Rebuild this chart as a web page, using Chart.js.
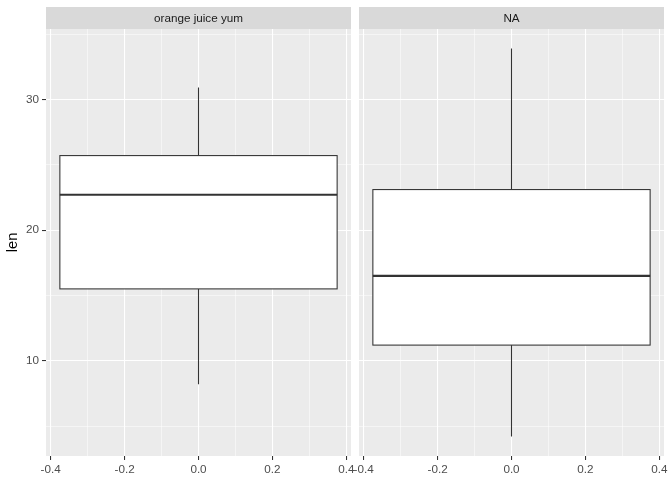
<!DOCTYPE html>
<html><head><meta charset="utf-8">
<script src="https://cdn.jsdelivr.net/npm/chart.js@4"></script>
<style>
html,body{margin:0;padding:0;background:#fff;}
#wrap{position:relative;width:672px;height:480px;overflow:hidden;background:#fff;}
canvas{position:absolute;top:0;}
</style></head><body>
<div id="wrap">
<canvas id="c1" width="362" height="480" style="left:0px;width:362px;height:480px"></canvas>
<canvas id="c2" width="322" height="480" style="left:350px;width:322px;height:480px"></canvas>
</div>
<script>
// ---- data ----
const panels = ['orange juice yum', 'NA'];
const whiskerLow = [8.2, 4.2];
const q1 = [15.5, 11.2];
const medians = [22.7, 16.5];
const q3 = [25.7, 23.1];
const whiskerHigh = [30.9, 33.9];
const boxCenter = 0;
const boxHalfWidth = 0.375;
const xMajor = [-0.4, -0.2, 0, 0.2, 0.4];
const xMinor = [-0.3, -0.1, 0.1, 0.3];
const yMajor = [10, 20, 30];
const yMinor = [5, 15, 25, 35];
const yTitle = 'len';

// ---- derived ranges (ggplot-style 5% expansion) ----
const xLo = boxCenter - boxHalfWidth, xHi = boxCenter + boxHalfWidth;
const xPad = (xHi - xLo) * 0.05;
const yLoData = Math.min(...whiskerLow), yHiData = Math.max(...whiskerHigh);
const yPad = (yHiData - yLoData) * 0.05;

const FONT = '"Liberation Sans", Arial, Helvetica, sans-serif';
const GRID_MAJOR = 1.07, GRID_MINOR = 0.53;

function tickSetter(major, minor) {
  return function (scale) {
    scale.ticks = [...major, ...minor].sort((a, b) => a - b).map(v => ({ value: v }));
  };
}

const panelPlugin = {
  id: 'panelPlugin',
  beforeDraw(chart) {
    const { ctx, chartArea: a } = chart;
    ctx.save();
    ctx.fillStyle = '#EBEBEB';
    ctx.fillRect(a.left, a.top, a.right - a.left, a.bottom - a.top);
    ctx.restore();
  },
  afterDatasetsDraw(chart) {
    const o = chart.options.plugins.panelPlugin;
    const i = o.index;
    const xs = chart.scales.x, ys = chart.scales.y;
    const ctx = chart.ctx;
    const xl = xs.getPixelForValue(boxCenter - boxHalfWidth);
    const xr = xs.getPixelForValue(boxCenter + boxHalfWidth);
    const xc = xs.getPixelForValue(boxCenter);
    const yq1 = ys.getPixelForValue(q1[i]);
    const yq3 = ys.getPixelForValue(q3[i]);
    const ymed = ys.getPixelForValue(medians[i]);
    const ylo = ys.getPixelForValue(whiskerLow[i]);
    const yhi = ys.getPixelForValue(whiskerHigh[i]);
    ctx.save();
    ctx.strokeStyle = '#333333';
    ctx.lineWidth = 1.07;
    // whiskers
    ctx.beginPath();
    ctx.moveTo(xc, yq3); ctx.lineTo(xc, yhi);
    ctx.moveTo(xc, yq1); ctx.lineTo(xc, ylo);
    ctx.stroke();
    // box
    ctx.fillStyle = '#FFFFFF';
    ctx.fillRect(xl, yq3, xr - xl, yq1 - yq3);
    ctx.strokeRect(xl, yq3, xr - xl, yq1 - yq3);
    // median
    ctx.lineWidth = 2.13;
    ctx.beginPath();
    ctx.moveTo(xl, ymed); ctx.lineTo(xr, ymed);
    ctx.stroke();
    ctx.restore();
  },
  afterDraw(chart) {
    const o = chart.options.plugins.panelPlugin;
    const { ctx, chartArea: a } = chart;
    ctx.save();
    ctx.fillStyle = '#D9D9D9';
    ctx.fillRect(a.left, 7, a.right - a.left, a.top - 7);
    ctx.fillStyle = '#1A1A1A';
    ctx.font = '11.7px ' + FONT;
    ctx.textAlign = 'center';
    ctx.textBaseline = 'middle';
    ctx.fillText(panels[o.index], (a.left + a.right) / 2, (7 + a.top) / 2 + 0.5);
    ctx.restore();
  }
};

function makeChart(canvasId, i, isLeft) {
  const isMajX = v => xMajor.includes(v);
  const isMajY = v => yMajor.includes(v);
  return new Chart(document.getElementById(canvasId), {
    type: 'scatter',
    data: {
      datasets: [{
        data: [whiskerLow[i], q1[i], medians[i], q3[i], whiskerHigh[i]].map(v => ({ x: boxCenter, y: v })),
        pointRadius: 0, showLine: false
      }]
    },
    plugins: [panelPlugin],
    options: {
      responsive: false,
      devicePixelRatio: 1,
      animation: false,
      events: [],
      layout: { padding: { top: 29, right: isLeft ? 11 : 8, left: 0, bottom: 0 } },
      plugins: {
        legend: { display: false },
        tooltip: { enabled: false },
        panelPlugin: { index: i }
      },
      scales: {
        x: {
          type: 'linear',
          min: xLo - xPad, max: xHi + xPad,
          afterBuildTicks: tickSetter(xMajor, xMinor),
          afterFit: s => { s.height = 24; },
          border: { display: false },
          grid: {
            color: '#FFFFFF',
            lineWidth: c => isMajX(c.tick.value) ? GRID_MAJOR : GRID_MINOR,
            drawTicks: true,
            tickLength: 4,
            tickWidth: 1.07,
            tickColor: c => isMajX(c.tick.value) ? '#333333' : 'rgba(0,0,0,0)'
          },
          ticks: {
            autoSkip: false, maxRotation: 0, minRotation: 0,
            padding: 3,
            color: '#4D4D4D',
            font: { family: FONT, size: 11.7 },
            callback: v => isMajX(v) ? v.toFixed(1) : ''
          }
        },
        y: {
          type: 'linear',
          min: yLoData - yPad, max: yHiData + yPad,
          afterBuildTicks: tickSetter(yMajor, yMinor),
          afterFit: s => { s.width = isLeft ? 46 : 9; },
          border: { display: false },
          grid: {
            color: '#FFFFFF',
            lineWidth: c => isMajY(c.tick.value) ? GRID_MAJOR : GRID_MINOR,
            drawTicks: isLeft,
            tickLength: 4,
            tickWidth: 1.07,
            tickColor: c => isMajY(c.tick.value) ? '#333333' : 'rgba(0,0,0,0)'
          },
          ticks: {
            display: isLeft,
            autoSkip: false,
            padding: 3,
            color: '#4D4D4D',
            font: { family: FONT, size: 11.7 },
            callback: v => isMajY(v) ? String(v) : ''
          },
          title: {
            display: isLeft,
            text: yTitle,
            color: '#000000',
            padding: { top: 4, bottom: 4 },
            font: { family: FONT, size: 14.67 }
          }
        }
      }
    }
  });
}

makeChart('c1', 0, true);
makeChart('c2', 1, false);
</script>
</body></html>
